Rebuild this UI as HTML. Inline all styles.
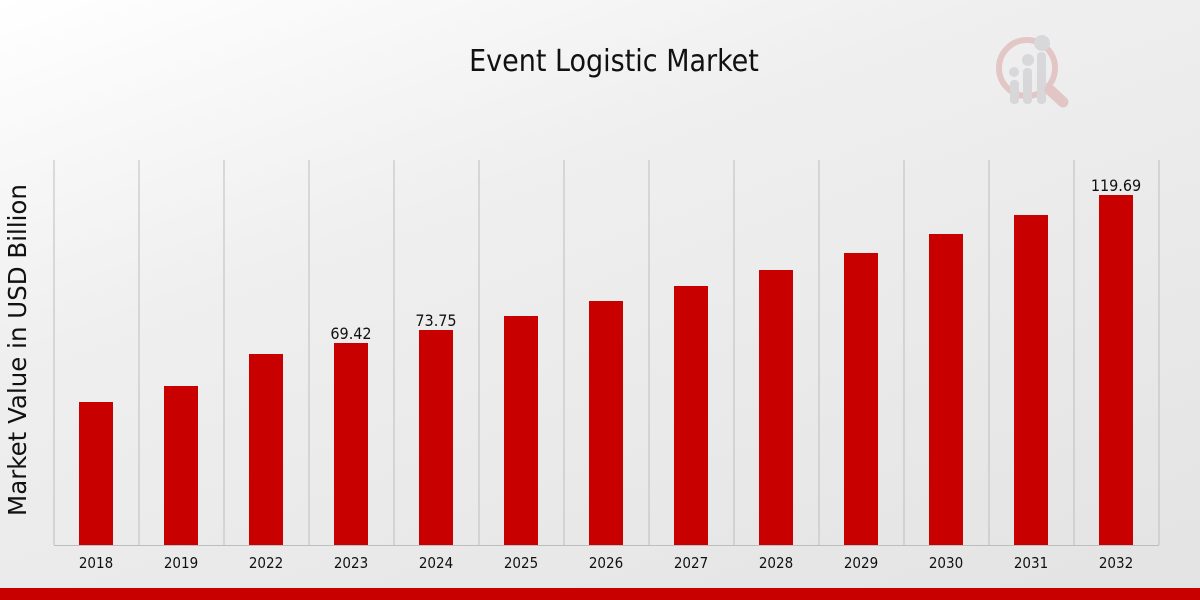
<!DOCTYPE html>
<html><head><meta charset="utf-8"><style>
html,body{margin:0;padding:0;}
body{width:1200px;height:600px;overflow:hidden;background:linear-gradient(160deg,#ffffff 0%,#efefef 35%,#e3e3e3 100%);font-family:"DejaVu Sans Condensed","Liberation Sans Narrow","Liberation Sans",sans-serif;}
</style></head><body>
<svg width="1200" height="600" xmlns="http://www.w3.org/2000/svg" style="position:absolute;left:0;top:0">
<text x="614" y="71" text-anchor="middle" font-family="'DejaVu Sans Condensed','Liberation Sans Narrow',sans-serif" font-size="30" fill="#111">Event Logistic Market</text>
<g opacity="0.35">
<circle cx="1027" cy="68" r="28" fill="none" stroke="#d08080" stroke-width="6"/>
<rect x="1010" y="80" width="9" height="24" rx="4" fill="#b0b0b8"/>
<rect x="1023" y="68" width="9" height="36" rx="4" fill="#b0b0b8"/>
<rect x="1037" y="52" width="9" height="52" rx="4" fill="#b0b0b8"/>
<circle cx="1014" cy="72" r="5" fill="#b0b0b8"/><circle cx="1028" cy="60" r="6" fill="#b0b0b8"/><circle cx="1042" cy="43" r="8" fill="#b0b0b8"/>
<line x1="1050" y1="90" x2="1063" y2="102" stroke="#d08080" stroke-width="11" stroke-linecap="round"/>
</g>
<g stroke="#bdbdbd" stroke-width="1">
<line x1="54" y1="160" x2="54" y2="545"/><line x1="139" y1="160" x2="139" y2="545"/><line x1="224" y1="160" x2="224" y2="545"/><line x1="309" y1="160" x2="309" y2="545"/><line x1="394" y1="160" x2="394" y2="545"/><line x1="479" y1="160" x2="479" y2="545"/><line x1="564" y1="160" x2="564" y2="545"/><line x1="649" y1="160" x2="649" y2="545"/><line x1="734" y1="160" x2="734" y2="545"/><line x1="819" y1="160" x2="819" y2="545"/><line x1="904" y1="160" x2="904" y2="545"/><line x1="989" y1="160" x2="989" y2="545"/><line x1="1074" y1="160" x2="1074" y2="545"/><line x1="1159" y1="160" x2="1159" y2="545"/>
<line x1="54" y1="545.5" x2="1159" y2="545.5"/>
</g>
<g fill="#c80000">
<rect x="79" y="402" width="34" height="143"/>
<rect x="164" y="386" width="34" height="159"/>
<rect x="249" y="354" width="34" height="191"/>
<rect x="334" y="343" width="34" height="202"/>
<rect x="419" y="330" width="34" height="215"/>
<rect x="504" y="316" width="34" height="229"/>
<rect x="589" y="301" width="34" height="244"/>
<rect x="674" y="286" width="34" height="259"/>
<rect x="759" y="270" width="34" height="275"/>
<rect x="844" y="253" width="34" height="292"/>
<rect x="929" y="234" width="34" height="311"/>
<rect x="1014" y="215" width="34" height="330"/>
<rect x="1099" y="195" width="34" height="350"/>
</g>
<g font-size="16" fill="#111" text-anchor="middle">
<text x="351" y="339">69.42</text><text x="436" y="326">73.75</text><text x="1116" y="191">119.69</text>
</g>
<g font-size="15" fill="#111" text-anchor="middle">
<text x="96" y="568">2018</text><text x="181" y="568">2019</text><text x="266" y="568">2022</text><text x="351" y="568">2023</text><text x="436" y="568">2024</text><text x="521" y="568">2025</text><text x="606" y="568">2026</text><text x="691" y="568">2027</text><text x="776" y="568">2028</text><text x="861" y="568">2029</text><text x="946" y="568">2030</text><text x="1031" y="568">2031</text><text x="1116" y="568">2032</text>
</g>
<text transform="translate(26,350) rotate(-90)" text-anchor="middle" font-family="'DejaVu Sans',sans-serif" font-size="24.5" fill="#111">Market Value in USD Billion</text>
<rect x="0" y="588" width="1200" height="12" fill="#c80000"/>
</svg>
</body></html>
